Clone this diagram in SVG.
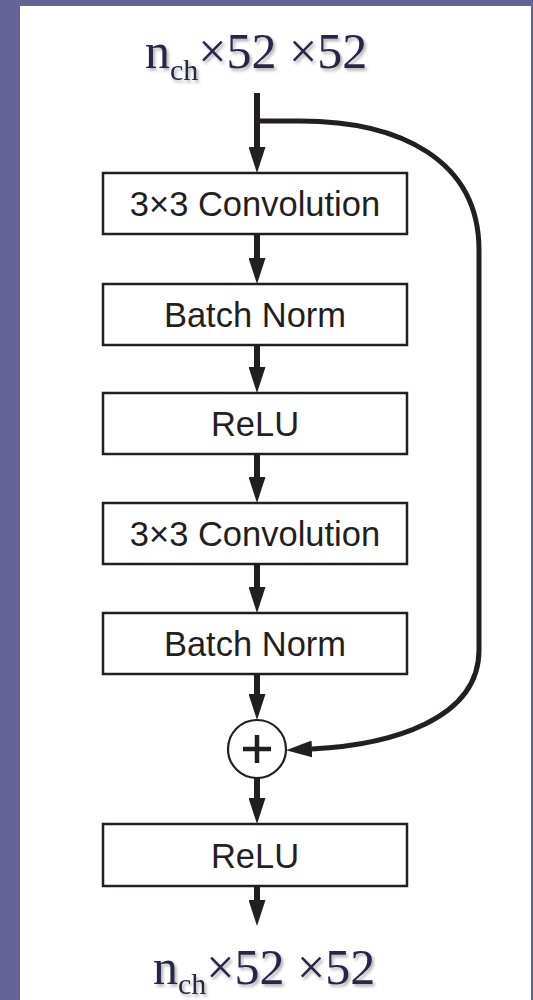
<svg xmlns="http://www.w3.org/2000/svg" width="533" height="1000" viewBox="0 0 533 1000">
<defs>
<style>
.box{fill:#fff;stroke:#231f20;stroke-width:2.5}
.lbl{font-family:"Liberation Sans",Arial,sans-serif;font-size:34.5px;fill:#231f20;text-anchor:middle}
.dim{font-family:"Liberation Serif","Times New Roman",serif;font-size:50px;fill:#26264a}
.sub{font-size:30px}
.flow{fill:none;stroke:#231f20;stroke-width:6}
.skip{fill:none;stroke:#231f20;stroke-width:5}
</style>
<marker id="ah" markerUnits="userSpaceOnUse" markerWidth="26" markerHeight="17" refX="0" refY="8.5" orient="auto" viewBox="0 0 26 17">
<path d="M0,0 L26,8.5 L0,17 z" fill="#231f20"/>
</marker>
<filter id="sh" x="-10%" y="-20%" width="130%" height="150%">
<feDropShadow dx="2" dy="2.5" stdDeviation="1.5" flood-color="#7a7a7a" flood-opacity="0.6"/>
</filter>
</defs>
<rect x="0" y="0" width="533" height="1000" fill="#636398"/>
<rect x="20" y="6" width="511" height="994" fill="#ffffff"/>

<g id="input-label">
<text class="dim" x="145" y="68" filter="url(#sh)">n<tspan class="sub" dy="12">ch</tspan><tspan dy="-12">×52 ×52</tspan></text>
</g>

<g id="connectors">
<line class="flow" x1="257" y1="93" x2="257" y2="147" marker-end="url(#ah)"/>
<line class="flow" x1="257" y1="234" x2="257" y2="258" marker-end="url(#ah)"/>
<line class="flow" x1="257" y1="345" x2="257" y2="367" marker-end="url(#ah)"/>
<line class="flow" x1="257" y1="454" x2="257" y2="477" marker-end="url(#ah)"/>
<line class="flow" x1="257" y1="564" x2="257" y2="587" marker-end="url(#ah)"/>
<line class="flow" x1="257" y1="674" x2="257" y2="694" marker-end="url(#ah)"/>
<line class="flow" x1="257" y1="778" x2="257" y2="798" marker-end="url(#ah)"/>
<line class="flow" x1="257" y1="885" x2="257" y2="900" marker-end="url(#ah)"/>
<path class="skip" d="M257,121 H300 C400,121 479,160 479,250 V650 C479,720 390,745 312,749" marker-end="url(#ah)"/>
</g>

<g id="conv1">
<rect class="box" x="103" y="173" width="304" height="61"/>
<text class="lbl" x="255" y="216">3×3 Convolution</text>
</g>
<g id="bn1">
<rect class="box" x="103" y="284" width="304" height="61"/>
<text class="lbl" x="255" y="327">Batch Norm</text>
</g>
<g id="relu1">
<rect class="box" x="103" y="393" width="304" height="61"/>
<text class="lbl" x="255" y="436">ReLU</text>
</g>
<g id="conv2">
<rect class="box" x="103" y="503" width="304" height="61"/>
<text class="lbl" x="255" y="546">3×3 Convolution</text>
</g>
<g id="bn2">
<rect class="box" x="103" y="613" width="304" height="61"/>
<text class="lbl" x="255" y="656">Batch Norm</text>
</g>
<g id="add">
<circle cx="257" cy="749" r="29" fill="#fff" stroke="#231f20" stroke-width="2.2"/>
<path d="M243,749 H271 M257,735 V763" stroke="#231f20" stroke-width="4.5" fill="none"/>
</g>
<g id="relu2">
<rect class="box" x="103" y="824" width="304" height="62"/>
<text class="lbl" x="255" y="868">ReLU</text>
</g>

<g id="output-label">
<text class="dim" x="153" y="984" filter="url(#sh)">n<tspan class="sub" dy="10">ch</tspan><tspan dy="-10">×52 ×52</tspan></text>
</g>
</svg>
